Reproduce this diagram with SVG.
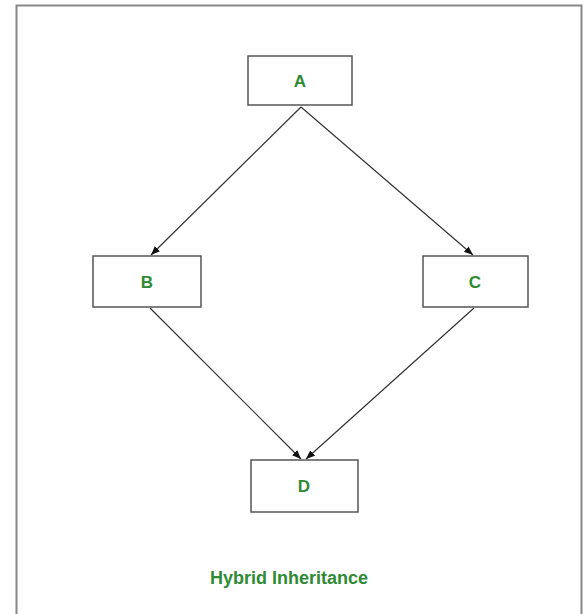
<svg xmlns="http://www.w3.org/2000/svg" width="584" height="614" viewBox="0 0 584 614">
<style>
.node rect{fill:#fff;stroke:#555;stroke-width:1.5}
.node text{font-family:"Liberation Sans",Arial,sans-serif;font-weight:bold;font-size:17px;fill:#2e8b34;text-anchor:middle}
.conn line{stroke:#333;stroke-width:1.2}
.title{font-family:"Liberation Sans",Arial,sans-serif;font-weight:bold;font-size:18px;fill:#2e8b34;text-anchor:middle}
</style>
<defs>
<marker id="ah" viewBox="0 0 10 10" refX="10" refY="5" markerWidth="9" markerHeight="9" markerUnits="userSpaceOnUse" orient="auto">
<path d="M0,1 L10,5 L0,9 Z" fill="#111"/>
</marker>
</defs>
<rect width="584" height="614" fill="#fff"/>
<path d="M16.5,620 V5.5 H581.5 V620" fill="none" stroke="#888" stroke-width="2"/>
<g class="conn">
<line x1="301" y1="107" x2="151" y2="255" marker-end="url(#ah)"/>
<line x1="301" y1="107" x2="473" y2="255" marker-end="url(#ah)"/>
<line x1="150" y1="308" x2="301" y2="459" marker-end="url(#ah)"/>
<line x1="474" y1="308" x2="306" y2="459" marker-end="url(#ah)"/>
</g>
<g id="A" class="node"><rect x="248" y="56" width="104" height="49"/><text x="300" y="87">A</text></g>
<g id="B" class="node"><rect x="93" y="256" width="108" height="51"/><text x="147" y="288">B</text></g>
<g id="C" class="node"><rect x="423" y="256" width="105" height="51"/><text x="475" y="288">C</text></g>
<g id="D" class="node"><rect x="251" y="460" width="107" height="52"/><text x="304" y="492">D</text></g>
<text class="title" x="289" y="584">Hybrid Inheritance</text>
</svg>
